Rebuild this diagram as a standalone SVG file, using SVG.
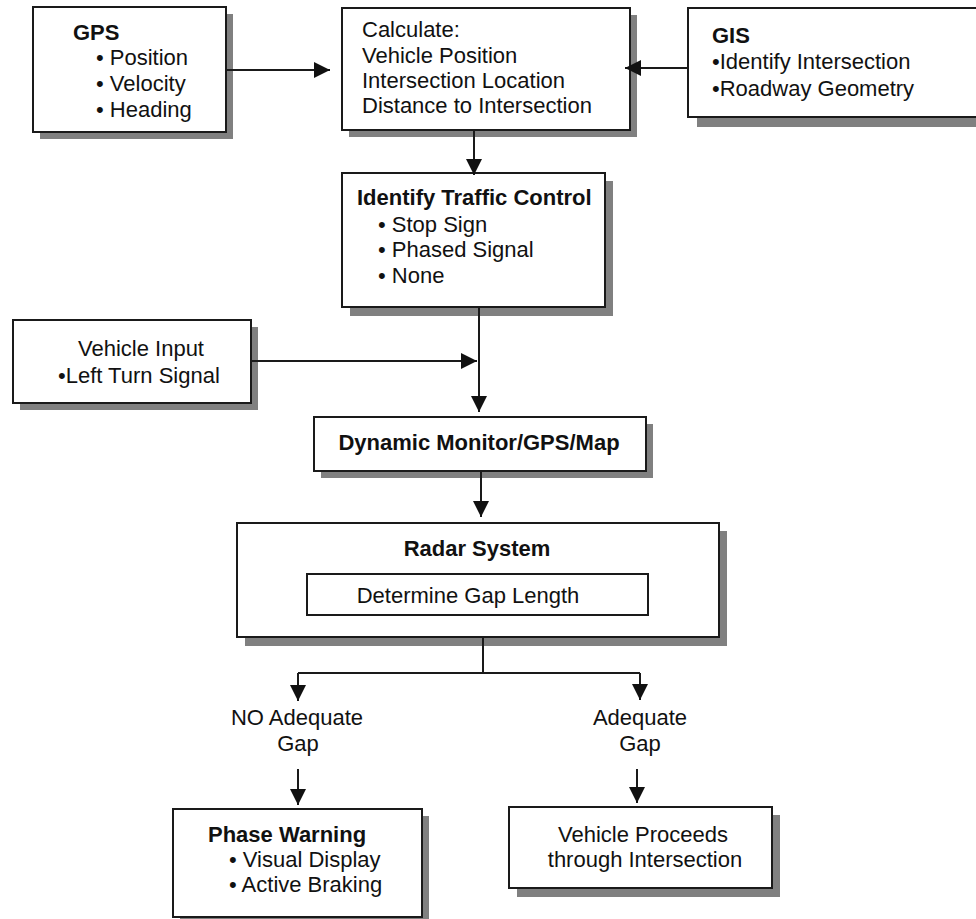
<svg xmlns="http://www.w3.org/2000/svg" width="976" height="919" viewBox="0 0 976 919">
<style>
.box{fill:#fff;stroke:#1a1a1a;stroke-width:2}
.sh{fill:#808080}
.t{font-family:"Liberation Sans",Arial,sans-serif;font-size:22px;fill:#111}
.b{font-weight:bold}
.m{text-anchor:middle}
.c{fill:none;stroke:#1a1a1a;stroke-width:2}
</style>
<defs>
<marker id="ah" markerUnits="userSpaceOnUse" markerWidth="16" markerHeight="16" refX="16" refY="8" orient="auto" viewBox="0 0 16 16">
<path d="M0,0 L16,8 L0,16 z" fill="#111"/>
</marker>
</defs>
<rect width="976" height="919" fill="#fff"/>
<g id="gps">
<rect class="sh" x="40" y="14" width="193" height="125"/>
<rect class="box" x="33" y="7" width="193" height="125"/>
<text class="t b" x="73" y="40">GPS</text>
<text class="t" x="96" y="65">• Position</text>
<text class="t" x="96" y="91">• Velocity</text>
<text class="t" x="96" y="117">• Heading</text>
</g>
<g id="calculate">
<rect class="sh" x="349" y="15" width="288" height="122"/>
<rect class="box" x="342" y="8" width="288" height="122"/>
<text class="t" x="362" y="37">Calculate:</text>
<text class="t" x="362" y="63">Vehicle Position</text>
<text class="t" x="362" y="88">Intersection Location</text>
<text class="t" x="362" y="113">Distance to Intersection</text>
</g>
<g id="gis">
<rect class="sh" x="697" y="18" width="300" height="109"/>
<rect class="box" x="688" y="8" width="300" height="109"/>
<text class="t b" x="712" y="43">GIS</text>
<text class="t" x="712" y="69">•Identify Intersection</text>
<text class="t" x="712" y="96">•Roadway Geometry</text>
</g>
<g id="identify">
<rect class="sh" x="350" y="181" width="263" height="135"/>
<rect class="box" x="342" y="173" width="263" height="134"/>
<text class="t b" x="357" y="205">Identify Traffic Control</text>
<text class="t" x="378" y="232">• Stop Sign</text>
<text class="t" x="378" y="257">• Phased Signal</text>
<text class="t" x="378" y="283">• None</text>
</g>
<g id="vehicle-input">
<rect class="sh" x="20" y="327" width="238" height="83"/>
<rect class="box" x="13" y="320" width="238" height="83"/>
<text class="t" x="78" y="356">Vehicle Input</text>
<text class="t" x="58" y="383">•Left Turn Signal</text>
</g>
<g id="dynamic">
<rect class="sh" x="321" y="424" width="332" height="54"/>
<rect class="box" x="314" y="417" width="332" height="54"/>
<text class="t b m" x="479" y="450">Dynamic Monitor/GPS/Map</text>
</g>
<g id="radar">
<rect class="sh" x="245" y="531" width="482" height="115"/>
<rect class="box" x="237" y="523" width="482" height="114"/>
<text class="t b m" x="477" y="556">Radar System</text>
<rect class="box" x="307" y="574" width="341" height="41"/>
<text class="t m" x="468" y="603">Determine Gap Length</text>
</g>
<g id="no-gap-label">
<text class="t m" x="297" y="725">NO Adequate</text>
<text class="t m" x="298" y="751">Gap</text>
</g>
<g id="gap-label">
<text class="t m" x="640" y="725">Adequate</text>
<text class="t m" x="640" y="751">Gap</text>
</g>
<g id="phase-warning">
<rect class="sh" x="180" y="816" width="249" height="108"/>
<rect class="box" x="173" y="809" width="249" height="108"/>
<text class="t b" x="208" y="842">Phase Warning</text>
<text class="t" x="229" y="867">• Visual Display</text>
<text class="t" x="229" y="892">• Active Braking</text>
</g>
<g id="proceeds">
<rect class="sh" x="517" y="815" width="263" height="82"/>
<rect class="box" x="509" y="807" width="263" height="81"/>
<text class="t m" x="643" y="842">Vehicle Proceeds</text>
<text class="t m" x="645" y="867">through Intersection</text>
</g>
<g id="connectors">
<path class="c" d="M226,70 H330" marker-end="url(#ah)"/>
<path class="c" d="M688,68 H625" marker-end="url(#ah)"/>
<path class="c" d="M474,130 V175" marker-end="url(#ah)"/>
<path class="c" d="M479,307 V412" marker-end="url(#ah)"/>
<path class="c" d="M251,361 H477" marker-end="url(#ah)"/>
<path class="c" d="M481,471 V517" marker-end="url(#ah)"/>
<path class="c" d="M483,637 V673 M298,673 H640"/>
<path class="c" d="M298,673 V701" marker-end="url(#ah)"/>
<path class="c" d="M640,673 V700" marker-end="url(#ah)"/>
<path class="c" d="M298,769 V805" marker-end="url(#ah)"/>
<path class="c" d="M637,769 V803" marker-end="url(#ah)"/>
</g>
</svg>
